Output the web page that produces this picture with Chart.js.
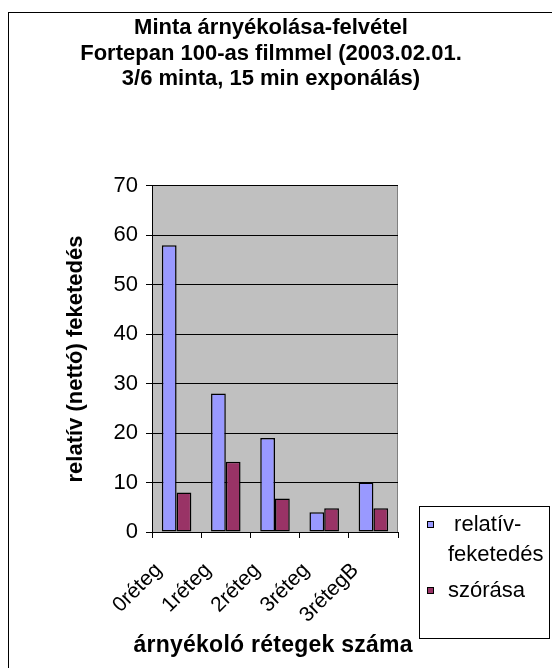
<!DOCTYPE html>
<html lang="hu">
<head>
<meta charset="utf-8">
<title>Minta árnyékolása-felvétel</title>
<script src="https://cdn.jsdelivr.net/npm/chart.js@4.4.1/dist/chart.umd.min.js"></script>
<style>
  html, body { margin: 0; padding: 0; background: #fff; }
  canvas { display: block; }
</style>
</head>
<body>
<canvas id="chart" width="552" height="668"></canvas>
<script>
// Categories, series and labels
const categories = ['0réteg', '1réteg', '2réteg', '3réteg', '3rétegB'];
const relativFeketedes = [58, 28, 19, 4, 10];
const szorasa = [8, 14.2, 6.8, 4.8, 4.8];
const seriesNames = ['relatív-feketedés', 'szórása'];
const titleLines = [
  'Minta árnyékolása-felvétel',
  'Fortepan 100-as filmmel (2003.02.01.',
  '3/6 minta, 15 min exponálás)'
];
const yAxisTitle = 'relatív (nettó) feketedés';
const xAxisTitle = 'árnyékoló rétegek száma';
const yMin = 0, yMax = 70, yStep = 10;

const FONT = '"Liberation Sans", Arial, Helvetica, sans-serif';
Chart.defaults.font.family = FONT;
Chart.defaults.color = '#000';

// Grey plot area, its right edge, and the outer frame
const plotBackground = {
  id: 'plotBackground',
  beforeDraw(chart) {
    const { ctx, chartArea: a } = chart;
    ctx.save();
    ctx.fillStyle = '#c0c0c0';
    ctx.fillRect(a.left, a.top, a.right - a.left, a.bottom - a.top);
    ctx.strokeStyle = '#808080';
    ctx.lineWidth = 1;
    ctx.beginPath();
    ctx.moveTo(Math.round(a.right) - 0.5, a.top);
    ctx.lineTo(Math.round(a.right) - 0.5, a.bottom);
    ctx.stroke();
    ctx.strokeStyle = '#000';
    ctx.strokeRect(8.5, 12.5, chart.width, chart.height);
    ctx.restore();
  }
};

// Slightly letter-spaced title under the category axis
const categoryAxisTitle = {
  id: 'categoryAxisTitle',
  afterDraw(chart) {
    const { ctx, chartArea: a } = chart;
    const spacing = 0.25;
    ctx.save();
    ctx.font = 'bold 23px ' + FONT;
    ctx.fillStyle = '#000';
    ctx.textBaseline = 'middle';
    ctx.textAlign = 'left';
    const chars = Array.from(xAxisTitle);
    const widths = chars.map(c => ctx.measureText(c).width);
    const total = widths.reduce((s, w) => s + w, 0) + spacing * (chars.length - 1);
    let x = (a.left + a.right) / 2 - 2 - total / 2;
    const y = chart.scales.x.bottom - 22;
    chars.forEach((c, i) => {
      ctx.fillText(c, x, y);
      x += widths[i] + spacing;
    });
    ctx.restore();
  }
};

// Boxed legend to the right of the plot, long labels wrapped after the hyphen
const sideLegend = {
  id: 'sideLegend',
  afterDraw(chart) {
    const { ctx, chartArea: a } = chart;
    const box = { x: a.right + 21, y: a.bottom - 26, w: 130, h: 132 };
    ctx.save();
    ctx.strokeStyle = '#000';
    ctx.lineWidth = 1;
    ctx.strokeRect(Math.round(box.x) + 0.5, Math.round(box.y) + 0.5, box.w, box.h);
    ctx.font = '22px ' + FONT;
    ctx.textBaseline = 'middle';
    ctx.textAlign = 'left';
    ctx.fillStyle = '#000';
    const lineStep = 30;
    const sq = 7;
    let y = box.y + 18.5;
    const space = ctx.measureText(' ').width;
    chart.data.datasets.forEach(ds => {
      const lines = ds.label.includes('-') ? ds.label.replace('-', '-\n').split('\n') : [ds.label];
      const sx = Math.round(box.x + 8);
      const sy = Math.round(y - sq / 2);
      ctx.fillStyle = ds.backgroundColor;
      ctx.fillRect(sx, sy, sq, sq);
      ctx.strokeStyle = '#000';
      ctx.strokeRect(sx + 0.5, sy + 0.5, sq - 1, sq - 1);
      ctx.fillStyle = '#000';
      lines.forEach((ln, i) => {
        const tx = box.x + 29 + (lines.length > 1 && i === 0 ? space : 0);
        ctx.fillText(ln, tx, y + i * lineStep);
      });
      y += lines.length * lineStep + 6;
    });
    ctx.restore();
  }
};

new Chart(document.getElementById('chart'), {
  type: 'bar',
  data: {
    labels: categories,
    datasets: [
      {
        label: seriesNames[0],
        data: relativFeketedes,
        backgroundColor: '#9999ff',
        borderColor: '#000',
        borderWidth: 1.5,
        borderSkipped: false
      },
      {
        label: seriesNames[1],
        data: szorasa,
        backgroundColor: '#993366',
        borderColor: '#000',
        borderWidth: 1.5,
        borderSkipped: false
      }
    ]
  },
  options: {
    responsive: false,
    animation: false,
    layout: { padding: { left: 8, right: 18, top: 0, bottom: 0 } },
    datasets: { bar: { categoryPercentage: 0.6, barPercentage: 1.0 } },
    plugins: {
      legend: { display: false },
      tooltip: { enabled: false },
      title: {
        display: true,
        text: titleLines,
        color: '#000',
        font: { size: 22, weight: 'bold', lineHeight: 1.16 },
        padding: { top: 15.2, bottom: 94.2 }
      }
    },
    scales: {
      x: {
        grid: {
          display: true,
          drawOnChartArea: false,
          drawTicks: true,
          tickLength: 6,
          color: '#000',
          offset: true
        },
        border: { display: true, color: '#000', width: 1 },
        ticks: {
          font: { size: 21 },
          color: '#000',
          minRotation: 45,
          maxRotation: 45,
          padding: 20,
          labelOffset: -18
        },
        title: { display: false },
        afterFit(scale) { scale.height = 136; }
      },
      y: {
        min: yMin,
        max: yMax,
        grid: {
          color: '#000',
          lineWidth: 1,
          tickLength: 6,
          drawTicks: true
        },
        border: { display: true, color: '#000', width: 1 },
        ticks: {
          stepSize: yStep,
          font: { size: 22 },
          color: '#000',
          padding: 8
        },
        title: {
          display: true,
          text: yAxisTitle,
          color: '#000',
          font: { size: 22, weight: 'bold', lineHeight: 1.2 },
          padding: { top: 54.8, bottom: 0 }
        },
        afterFit(scale) { scale.width = 144; }
      },
      legendSpace: {
        type: 'linear',
        position: 'right',
        display: true,
        grid: { display: false },
        border: { display: false },
        ticks: { display: false },
        afterFit(scale) { scale.width = 136; }
      }
    }
  },
  plugins: [plotBackground, categoryAxisTitle, sideLegend]
});
</script>
</body>
</html>
